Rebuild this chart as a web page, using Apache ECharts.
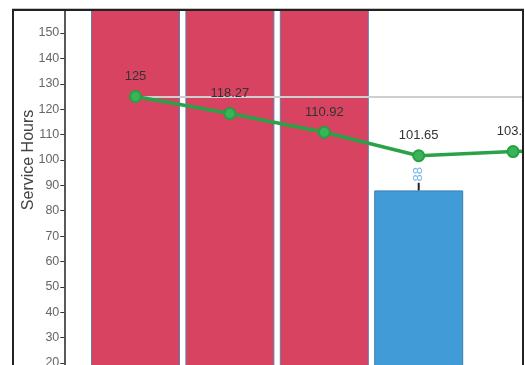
<!DOCTYPE html>
<html>
<head>
<meta charset="utf-8">
<script src="https://cdn.jsdelivr.net/npm/echarts@6/dist/echarts.min.js"></script>
<style>
  html,body{margin:0;padding:0;background:#fff;overflow:hidden;}
  #topline{position:absolute;left:12px;top:8px;width:512px;height:1px;background:#c4c4c4;}
  #clip{position:absolute;left:12px;top:9px;width:512px;height:356px;border:2px solid #222;border-bottom:none;box-sizing:border-box;overflow:hidden;}
  #chart{position:absolute;left:-14px;top:-211px;width:700px;height:700px;}
</style>
</head>
<body>
<div id="topline"></div>
<div id="clip"><div id="chart"></div></div>
<script>
const categories = ['P1', 'P2', 'P3', 'P4', 'P5', 'P6'];
const barValues = [185, 185, 185, 88, null, null];
const barColors = ['#d84362', '#d84362', '#d84362', '#419bd6', '#419bd6', '#419bd6'];
const errorUpper = [null, null, null, 91, null, null];
const lineValues = [125, 118.27, 110.92, 101.65, 103.3, 104];
const targetValue = 125;

const chart = echarts.init(document.getElementById('chart'), null, {renderer: 'canvas'});

const barData = barValues.map((v, i) => ({
  value: v,
  itemStyle: {color: barColors[i], borderColor: i < 3 ? '#5b7fae' : '#3a7fb5', borderWidth: 1},
  label: i === 3 ? {
    show: true, position: 'top', rotate: 90, align: 'left', verticalAlign: 'middle',
    distance: 9, color: '#72b6ec', fontSize: 13, fontFamily: 'Liberation Sans, Arial'
  } : {show: false}
}));

const errData = errorUpper.map((u, i) => u == null ? null : [i, barValues[i], u]).filter(d => d);

chart.setOption({
  animation: false,
  grid: {left: 88.3, right: 45.3, top: 106.1, bottom: 86.2, containLabel: false},
  xAxis: {
    type: 'category', data: categories,
    axisLine: {lineStyle: {color: '#222'}}, axisTick: {show: false},
    axisLabel: {color: '#666'}
  },
  yAxis: {
    type: 'value', min: 0, max: 200, interval: 10, offset: 24,
    name: 'Service Hours', nameLocation: 'middle', nameGap: 28, nameRotate: 90,
    nameMoveOverlap: false,
    nameTextStyle: {color: '#444', fontSize: 16, fontFamily: 'Liberation Sans, Arial'},
    axisLine: {show: true, lineStyle: {color: '#222', width: 1.5}},
    axisTick: {show: true, length: 4, lineStyle: {color: '#333'}},
    axisLabel: {color: '#666', fontSize: 12.5, margin: 5, fontFamily: 'Liberation Sans, Arial'},
    splitLine: {show: false}
  },
  series: [
    {
      type: 'bar', data: barData, barWidth: 89, z: 1
    },
    {
      type: 'custom', z: 3,
      data: errData,
      renderItem: function (params, api) {
        const p1 = api.coord([api.value(0), api.value(1)]);
        const p2 = api.coord([api.value(0), api.value(2)]);
        return {type: 'line', shape: {x1: p1[0], y1: p1[1], x2: p2[0], y2: p2[1]},
                style: {stroke: '#222', lineWidth: 2}};
      }
    },
    {
      type: 'line', data: lineValues, z: 5,
      lineStyle: {color: '#2aa348', width: 3.5},
      symbol: 'circle', symbolSize: 11,
      itemStyle: {color: '#3ab458', borderColor: '#27a044', borderWidth: 2},
      label: {show: true, position: 'top', distance: 7, color: '#333', fontSize: 13, fontFamily: 'Liberation Sans, Arial'},
      markLine: {
        silent: true, symbol: ['none', 'none'], label: {show: false},
        lineStyle: {color: '#cfcfcf', width: 2, type: 'solid'},
        data: [[{coord: [0, targetValue]}, {coord: [categories.length - 1, targetValue]}]]
      }
    }
  ]
});
</script>
</body>
</html>
